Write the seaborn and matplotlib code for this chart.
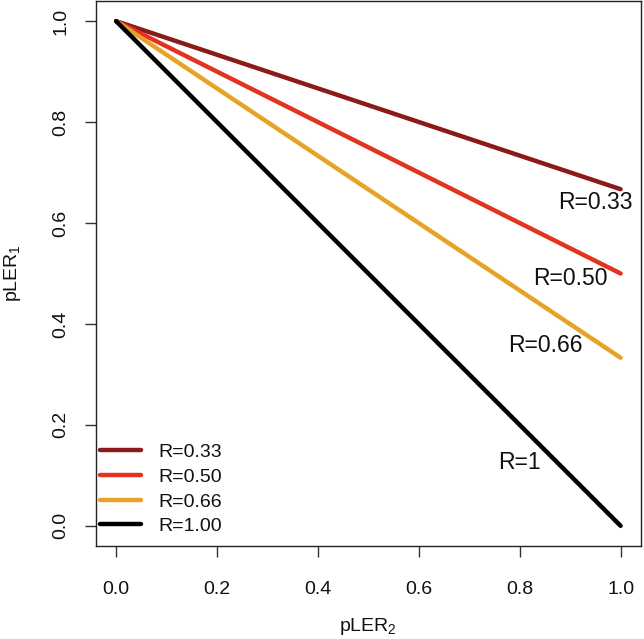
import matplotlib
matplotlib.use("Agg")
import matplotlib.pyplot as plt
import seaborn as sns
import pandas as pd

# data: pLER1 falls linearly from 1 as pLER2 goes 0 -> 1
pler2 = [0.0, 1.0]
ratio_labels = ["R=0.33", "R=0.50", "R=0.66", "R=1.00"]
pler1_start = [1.0, 1.0, 1.0, 1.0]
pler1_end = [0.667, 0.5, 0.333, 0.0]
line_colors = ["#8B1A1A", "#E3321F", "#E9A228", "#000000"]

# text labels placed near the right end of each line
annot_text = ["R=0.33", "R=0.50", "R=0.66", "R=1"]
annot_x = [0.95, 0.90, 0.85, 0.80]
annot_y = [0.64, 0.49, 0.358, 0.126]

sns.set_style("ticks")
plt.rcParams["font.family"] = ["Liberation Sans", "DejaVu Sans"]
plt.rcParams["mathtext.fontset"] = "custom"
plt.rcParams["mathtext.rm"] = "Liberation Sans"
plt.rcParams["mathtext.default"] = "regular"
for key in ["text.color", "axes.labelcolor", "xtick.color", "ytick.color"]:
    plt.rcParams[key] = "#111111"

rows = []
for lab, y0, y1 in zip(ratio_labels, pler1_start, pler1_end):
    rows.append({"pLER2": pler2[0], "pLER1": y0, "R": lab})
    rows.append({"pLER2": pler2[1], "pLER1": y1, "R": lab})
df = pd.DataFrame(rows)

fig = plt.figure(figsize=(6.44, 6.39), dpi=100)
ax = fig.add_axes([0.149, 0.1455, 0.846, 0.853])

sns.lineplot(data=df, x="pLER2", y="pLER1", hue="R", hue_order=ratio_labels,
             palette=line_colors, linewidth=3.2, ax=ax, legend=True)

for txt, x, y in zip(annot_text, annot_x, annot_y):
    ax.text(x, y, txt, fontsize=16.5, ha="center", va="center")

ax.set_xlim(-0.04, 1.04)
ax.set_ylim(-0.04, 1.04)
ax.set_xticks([0.0, 0.2, 0.4, 0.6, 0.8, 1.0])
ax.set_yticks([0.0, 0.2, 0.4, 0.6, 0.8, 1.0])
ax.set_xticklabels(["0.0", "0.2", "0.4", "0.6", "0.8", "1.0"])
ax.set_yticklabels(["0.0", "0.2", "0.4", "0.6", "0.8", "1.0"], rotation=90, va="center")
ax.tick_params(axis="x", length=8, width=1, pad=17, labelsize=14, color="#333333")
ax.tick_params(axis="y", length=8, width=1, pad=11, labelsize=14, color="#333333")
for sp in ax.spines.values():
    sp.set_visible(True)
    sp.set_linewidth(1.0)
    sp.set_color("#222222")

ax.set_xlabel("pLER$_2$", fontsize=14, labelpad=13)
ax.set_ylabel("pLER$_1$", fontsize=14, labelpad=21)

leg = ax.legend(loc="lower left", bbox_to_anchor=(0.007, 0.02), frameon=False,
                fontsize=14, handlelength=2.1, handletextpad=0.9,
                labelspacing=0.36, borderpad=0, borderaxespad=0)
for h in leg.get_lines():
    h.set_linewidth(3.2)

fig.savefig("out.png", dpi=100)
